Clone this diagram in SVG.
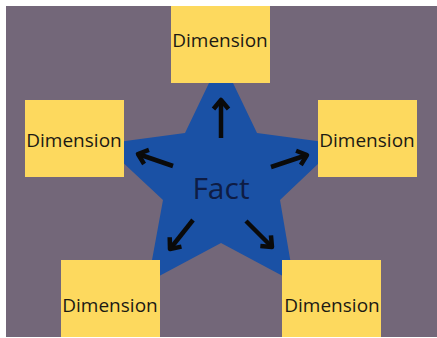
<svg xmlns="http://www.w3.org/2000/svg" width="437" height="338" viewBox="0 0 437 338">
<defs>
<style>
.box{fill:#fdd95e;}
.lbl{font-family:"Open Sans","Noto Sans",sans-serif;font-size:19px;fill:#1c1a14;text-anchor:middle;}
.arr{stroke:#0a0a0a;stroke-width:4.5;fill:none;}
</style>
<marker id="ah" viewBox="0 0 10 10" refX="8" refY="5" markerWidth="10" markerHeight="10" markerUnits="userSpaceOnUse" orient="auto" overflow="visible">
<polyline points="-1,-2.5 8,5 -1,12.5" fill="none" stroke="#0a0a0a" stroke-width="4.5" stroke-linejoin="round"/>
</marker>
</defs>
<rect x="0" y="0" width="437" height="338" fill="#ffffff"/>
<rect x="6" y="6" width="431" height="331" fill="#736779"/>
<g id="fact">
<polygon points="221,58 257,133 339,144 280,200 294,282 221,243 148,282 163,200 103,144 185,133" fill="#1a51a5"/>
<text x="221" y="199" font-family="Open Sans, Noto Sans, sans-serif" font-size="30" fill="#0e1c44" text-anchor="middle">Fact</text>
</g>
<g id="dim-top"><rect class="box" x="171" y="6" width="99" height="77"/><text class="lbl" x="220" y="47">Dimension</text></g>
<g id="dim-left"><rect class="box" x="25" y="100" width="99" height="77"/><text class="lbl" x="74" y="147">Dimension</text></g>
<g id="dim-right"><rect class="box" x="318" y="100" width="99" height="77"/><text class="lbl" x="367" y="147">Dimension</text></g>
<g id="dim-bl"><rect class="box" x="61" y="260" width="99" height="77"/><text class="lbl" x="110" y="312">Dimension</text></g>
<g id="dim-br"><rect class="box" x="282" y="260" width="99" height="77"/><text class="lbl" x="332" y="312">Dimension</text></g>
<g id="connectors">
<line class="arr" x1="221" y1="138" x2="221" y2="100" marker-end="url(#ah)"/>
<line class="arr" x1="173" y1="166" x2="138" y2="154" marker-end="url(#ah)"/>
<line class="arr" x1="271" y1="167" x2="307" y2="155" marker-end="url(#ah)"/>
<line class="arr" x1="193" y1="220" x2="170" y2="249" marker-end="url(#ah)"/>
<line class="arr" x1="246" y1="221" x2="272" y2="247" marker-end="url(#ah)"/>
</g>
</svg>
